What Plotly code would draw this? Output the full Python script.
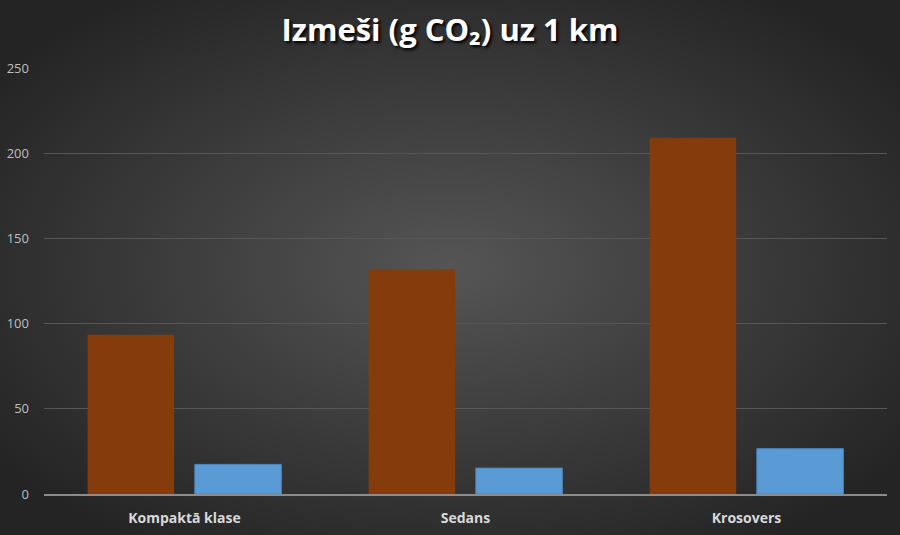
import base64
import plotly.graph_objects as go

categories = ['Kompaktā klase', 'Sedans', 'Krosovers']
series_a = [93.4, 131.7, 209.0]
series_b = [17.4, 15.2, 26.6]
y_ticks = [0, 50, 100, 150, 200, 250]

W, H = 900, 535
ml, mr, mt, mb = 44, 13, 68, 41
pw, ph = W - ml - mr, H - mt - mb

# radial gradient background, Excel style
svg = ('<svg xmlns="http://www.w3.org/2000/svg" width="900" height="535">'
       '<defs><radialGradient id="g" cx="50%" cy="50%" r="62%">'
       '<stop offset="0%" stop-color="#555555"/>'
       '<stop offset="100%" stop-color="#242424"/>'
       '</radialGradient></defs>'
       '<rect width="900" height="535" fill="url(#g)"/></svg>')
bg = 'data:image/svg+xml;base64,' + base64.b64encode(svg.encode()).decode()

fig = go.Figure()
fig.add_trace(go.Bar(x=categories, y=series_a, name='A',
                     marker=dict(color='#843C0C', line=dict(width=0))))
fig.add_trace(go.Bar(x=categories, y=series_b, name='B',
                     marker=dict(color='#5B9BD5', line=dict(color='#4a86bd', width=1))))

fig.update_layout(
    width=W, height=H,
    margin=dict(l=ml, r=mr, t=mt, b=mb),
    paper_bgcolor='#2b2b2b', plot_bgcolor='rgba(0,0,0,0)',
    showlegend=False,
    barmode='group', bargap=0.237, bargroupgap=0.193,
    title=dict(text='<b>Izmeši (g CO₂) uz 1 km</b>', x=0.5, xanchor='center',
               y=1 - 30 / H, yanchor='middle', yref='container',
               font=dict(family='Open Sans', size=31, color='#ffffff',
                         shadow='2px 2px 3px #000000')),
    images=[dict(source=bg, xref='paper', yref='paper',
                 x=-ml / pw, y=1 + mt / ph, sizex=W / pw, sizey=H / ph,
                 xanchor='left', yanchor='top', sizing='stretch',
                 layer='below')],
    font=dict(family='Open Sans', color='#bfbfbf'),
)
fig.update_xaxes(showgrid=False, ticks='', showline=True, linecolor='#8c8c8c',
                 linewidth=2, ticklabelstandoff=10, automargin=False,
                 tickfont=dict(family='Open Sans', size=14, color='#d9d9d9', weight='bold'))
fig.update_yaxes(range=[0, 250], tickvals=y_ticks, showgrid=True,
                 gridcolor='#575757', gridwidth=1, zeroline=False,
                 showline=False, ticks='', ticklabelstandoff=14, automargin=False,
                 tickfont=dict(family='Open Sans', size=13, color='#bfbfbf'))

fig.write_html("out.html", config={'displayModeBar': False},
               post_script="document.body.style.margin='0';"
                           "document.body.style.overflow='hidden';")
